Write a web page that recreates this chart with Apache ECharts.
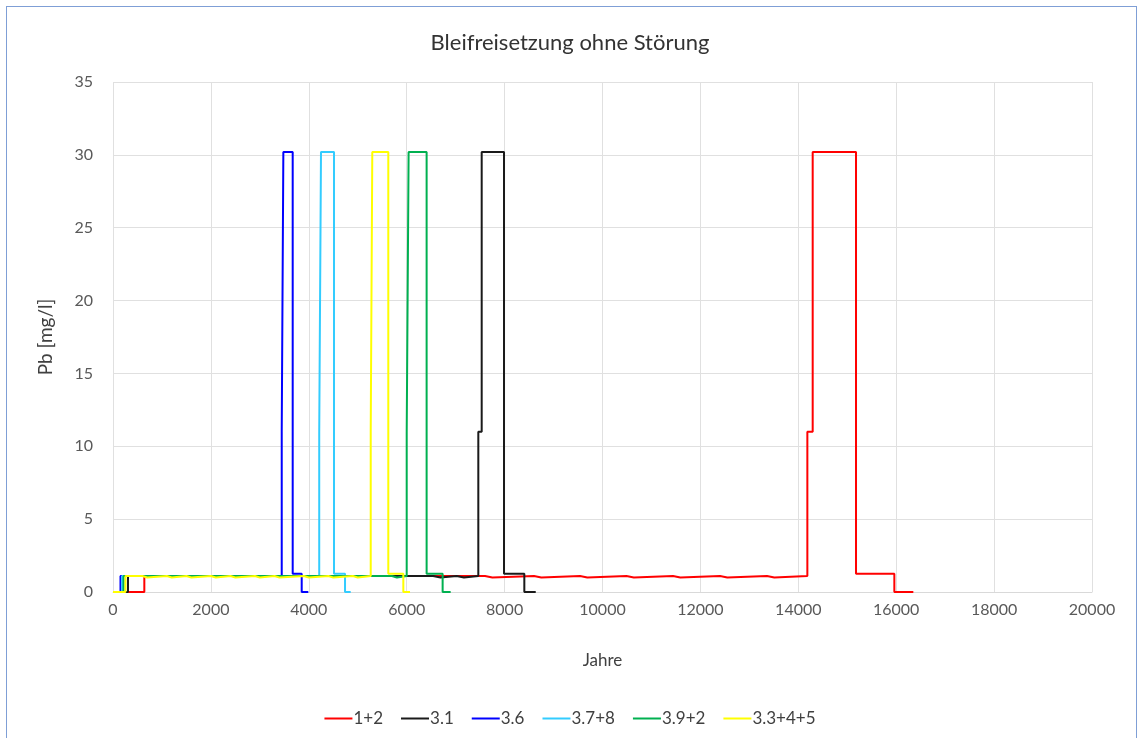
<!DOCTYPE html>
<html>
<head>
<meta charset="utf-8">
<script src="https://cdn.jsdelivr.net/npm/echarts@6/dist/echarts.min.js"></script>
<style>
  html, body { margin: 0; padding: 0; background: #fff; }
  #frame { position: absolute; left: 6px; top: 6px; width: 1131px; height: 740px;
           border: 1.5px solid #7f9fd6; box-sizing: border-box; }
  #chart { position: absolute; left: 0; top: 0; width: 1140px; height: 738px; }
</style>
</head>
<body>
<div id="frame"></div>
<div id="chart"></div>
<script>
// Lead release per scenario: each value holds from its year until the next year (step curve)
const seriesNames = ['1+2', '3.1', '3.6', '3.7+8', '3.9+2', '3.3+4+5'];
const seriesColors = ['#ff0000', '#1a1a1a', '#0000ff', '#33ccff', '#00b050', '#ffff00'];

const years12 = [0, 640, 7600, 7750, 8600, 8750, 9540, 9690, 10490, 10640, 11440, 11590, 12400, 12550, 13360, 13510, 14185, 14294, 15179, 15962, 16350];
const pb12    = [0, 1.1, 1.0, 1.1, 1.0, 1.1, 1.0, 1.1, 1.0, 1.1, 1.0, 1.1, 1.0, 1.1, 1.0, 1.1, 11, 30.2, 1.25, 0, 0];

const years31 = [0, 306, 6540, 6690, 7020, 7170, 7463, 7532, 7988, 8403, 8636];
const pb31    = [0, 1.1, 1.0, 1.1, 1.0, 1.1, 11, 30.2, 1.25, 0, 0];

const years36 = [0, 153, 3447, 3480, 3671, 3855, 3990];
const pb36    = [0, 1.1, 11, 30.2, 1.25, 0, 0];

const years378 = [0, 184, 4213, 4249, 4515, 4740, 4856];
const pb378    = [0, 1.1, 11, 30.2, 1.25, 0, 0];

const years392 = [0, 215, 5700, 5800, 6000, 6039, 6407, 6734, 6898];
const pb392    = [0, 1.1, 1.0, 1.1, 11, 30.2, 1.25, 0, 0];

const years3345 = [0, 255, 600, 700, 1100, 1200, 1500, 1600, 2000, 2100, 2400, 2500, 2900, 3000, 3300, 3400, 3900, 4000, 4400, 4500, 4900, 5000, 5265, 5297, 5624, 5931, 6068];
const pb3345    = [0, 1.1, 1.0, 1.1, 1.0, 1.1, 1.0, 1.1, 1.0, 1.1, 1.0, 1.1, 1.0, 1.1, 1.0, 1.1, 1.0, 1.1, 1.0, 1.1, 1.0, 1.1, 11, 30.2, 1.25, 0, 0];

const xTicks = { min: 0, max: 20000, interval: 2000 };
const yTicks = { min: 0, max: 35, interval: 5 };

const allYears = [years12, years31, years36, years378, years392, years3345];
const allPb = [pb12, pb31, pb36, pb378, pb392, pb3345];

// Expand "value holds until next year" into explicit corner points of a step curve
function stepPoints(years, vals) {
  const pts = [];
  for (let k = 0; k < years.length; k++) {
    pts.push([years[k], vals[k]]);
    if (k + 1 < years.length) pts.push([years[k + 1], vals[k]]);
  }
  return pts;
}

const font = 'Lato, "Open Sans", sans-serif';
const chart = echarts.init(document.getElementById('chart'), null, { renderer: 'canvas' });

chart.setOption({
  animation: false,
  backgroundColor: 'transparent',
  title: {
    text: 'Bleifreisetzung ohne Störung',
    left: 'center',
    top: 27,
    textStyle: { fontFamily: font, fontSize: 22, fontWeight: 'normal', color: '#333333' }
  },
  legend: {
    top: 705,
    left: 'center',
    itemWidth: 28,
    itemHeight: 10,
    itemGap: 18,
    icon: 'path://M0,4 L28,4 L28,6 L0,6 Z',
    textStyle: { fontFamily: font, fontSize: 17, color: '#404040', padding: [0, 0, 0, -4] },
    data: seriesNames
  },
  grid: { left: 113, right: 48, top: 82, bottom: 146, containLabel: false },
  xAxis: {
    type: 'value',
    min: xTicks.min, max: xTicks.max, interval: xTicks.interval,
    name: 'Jahre',
    nameLocation: 'middle',
    nameGap: 60,
    nameTextStyle: { fontFamily: font, fontSize: 17, color: '#404040' },
    axisLine: { show: true, lineStyle: { color: '#d9d9d9', width: 1 } },
    axisTick: { show: false },
    axisLabel: { fontFamily: font, fontSize: 16, color: '#595959', margin: 10, formatter: v => String(v) },
    splitLine: { show: true, lineStyle: { color: '#e0e0e0', width: 1 } }
  },
  yAxis: {
    type: 'value',
    min: yTicks.min, max: yTicks.max, interval: yTicks.interval,
    name: 'Pb [mg/l]',
    nameLocation: 'middle',
    nameGap: 58,
    nameTextStyle: { fontFamily: font, fontSize: 19, color: '#404040' },
    axisLine: { show: false },
    axisTick: { show: false },
    axisLabel: { fontFamily: font, fontSize: 16, color: '#595959', margin: 20 },
    splitLine: { show: true, lineStyle: { color: '#e0e0e0', width: 1 } }
  },
  series: seriesNames.map((name, i) => ({
    name: name,
    type: 'line',
    showSymbol: false,
    symbol: 'none',
    sampling: null,
    color: seriesColors[i],
    lineStyle: { width: 2, color: seriesColors[i] },
    data: stepPoints(allYears[i], allPb[i])
  }))
});
</script>
</body>
</html>
